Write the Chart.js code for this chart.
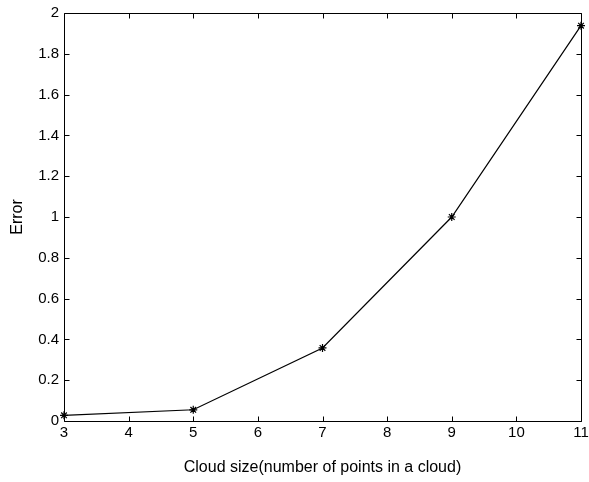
<!DOCTYPE html>
<html>
<head>
<meta charset="utf-8">
<script src="https://cdn.jsdelivr.net/npm/chart.js@4/dist/chart.umd.min.js"></script>
<style>
  html, body { margin: 0; padding: 0; background: #fff; }
  #wrap { width: 589px; height: 482px; }
</style>
</head>
<body>
<div id="wrap"><canvas id="c" width="589" height="482"></canvas></div>
<script>
// Cloud size vs. error
const cloudSizes = [3, 5, 7, 9, 11];
const errorValues = [0.028, 0.055, 0.358, 1.0, 1.938];
const xTicks = [3, 4, 5, 6, 7, 8, 9, 10, 11];
const yTicks = [0, 0.2, 0.4, 0.6, 0.8, 1, 1.2, 1.4, 1.6, 1.8, 2];

const FONT = "'Liberation Sans', Arial, Helvetica, sans-serif";

// Boxed frame with inward ticks on all four sides
const boxTicks = {
  id: 'boxTicks',
  beforeDatasetsDraw(chart) {
    const { ctx, chartArea: a, scales } = chart;
    const L = Math.round(a.left) + 0.5, R = Math.round(a.right) + 0.5;
    const T = Math.round(a.top) + 0.5, B = Math.round(a.bottom) + 0.5;
    const len = 5;
    ctx.save();
    ctx.strokeStyle = '#000';
    ctx.lineWidth = 1;
    ctx.beginPath();
    ctx.rect(L, T, R - L, B - T);
    xTicks.forEach(v => {
      const x = Math.round(scales.x.getPixelForValue(v)) + 0.5;
      ctx.moveTo(x, B); ctx.lineTo(x, B - len);
      ctx.moveTo(x, T); ctx.lineTo(x, T + len);
    });
    yTicks.forEach(v => {
      const y = Math.round(scales.y.getPixelForValue(v)) + 0.5;
      ctx.moveTo(L, y); ctx.lineTo(L + len, y);
      ctx.moveTo(R, y); ctx.lineTo(R - len, y);
    });
    ctx.stroke();
    ctx.restore();
  }
};

new Chart(document.getElementById('c'), {
  type: 'line',
  data: {
    datasets: [{
      data: cloudSizes.map((x, i) => ({ x, y: errorValues[i] })),
      borderColor: '#000',
      borderWidth: 1.2,
      pointStyle: 'star',
      pointRadius: 4,
      pointBorderWidth: 1.2,
      pointBorderColor: '#000',
      pointBackgroundColor: '#000',
      tension: 0,
      fill: false,
      clip: false
    }]
  },
  options: {
    responsive: false,
    animation: false,
    devicePixelRatio: 1,
    layout: { padding: { left: 0, top: 13, right: 8, bottom: 0 } },
    plugins: { legend: { display: false }, tooltip: { enabled: false } },
    scales: {
      x: {
        type: 'linear',
        min: 3, max: 11,
        afterBuildTicks: s => { s.ticks = xTicks.map(v => ({ value: v })); },
        afterFit: s => { s.height = 61; s.paddingLeft = 0; s.paddingRight = 0; },
        grid: { display: false, drawTicks: false },
        border: { display: false },
        ticks: {
          color: '#000', padding: 3,
          font: { family: FONT, size: 15 },
          maxRotation: 0,
          callback: v => String(v)
        },
        title: {
          display: true,
          text: 'Cloud size(number of points in a cloud)',
          color: '#000',
          font: { family: FONT, size: 16 },
          padding: { top: 0, bottom: 5 }
        }
      },
      y: {
        type: 'linear',
        min: 0, max: 2,
        afterBuildTicks: s => { s.ticks = yTicks.map(v => ({ value: v })); },
        afterFit: s => { s.width = 64; s.paddingTop = 0; s.paddingBottom = 0; },
        grid: { display: false, drawTicks: false },
        border: { display: false },
        ticks: {
          color: '#000', padding: 5,
          font: { family: FONT, size: 15 },
          callback: v => String(Math.round(v * 10) / 10)
        },
        title: {
          display: true,
          text: 'Error',
          color: '#000',
          font: { family: FONT, size: 16 },
          padding: { top: 8, bottom: 0 }
        }
      }
    }
  },
  plugins: [boxTicks]
});
</script>
</body>
</html>
